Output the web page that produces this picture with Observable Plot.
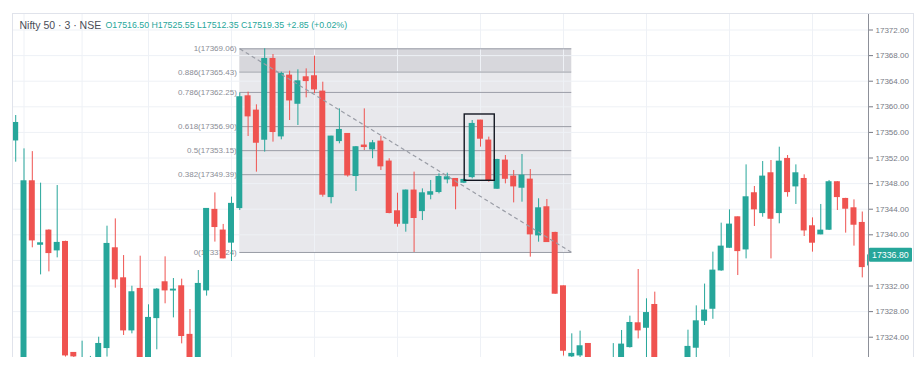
<!DOCTYPE html>
<html><head><meta charset="utf-8">
<script src="https://cdn.jsdelivr.net/npm/d3@7"></script>
<script src="https://cdn.jsdelivr.net/npm/@observablehq/plot@0.6"></script>
<style>
html,body{margin:0;padding:0;background:#fff;}
#wrap{position:relative;width:922px;height:381px;overflow:hidden;}
#border{position:absolute;left:12px;top:13px;width:900px;height:343px;border:1px solid #e0e3eb;border-bottom:none;pointer-events:none;}
</style></head><body><div id="wrap"><div id="border"></div></div>
<script>
const titleText = "Nifty 50 · 3 · NSE";
const legendText = "O17516.50 H17525.55 L17512.35 C17519.35 +2.85 (+0.02%)";

const opens = [
17354.73,17318.00,17348.38,17338.43,17340.67,17337.55,17338.90,17321.56,17318.00,17317.00,
17319.50,17322.29,17337.91,17333.22,17325.05,17331.56,17319.50,17326.97,17332.60,17331.28,
17331.97,17324.38,17319.00,17331.30,17343.91,17340.68,17338.76,17344.16,17361.66,17359.42,
17354.84,17367.49,17355.36,17364.89,17360.46,17364.63,17364.79,17362.39,17345.88,17354.63,
17355.78,17349.17,17353.96,17353.33,17354.58,17351.46,17343.69,17341.71,17346.93,17343.69,
17346.25,17346.67,17348.64,17348.74,17348.12,17349.00,17357.86,17354.74,17347.18,17351.61,
17349.11,17347.34,17348.64,17339.89,17344.32,17340.31,17331.97,17320.99,17321.14,17322.96,
17318.00,17316.00,17318.00,17319.50,17322.44,17326.19,17325.46,17329.05,17319.00,17316.00,
17318.00,17319.00,17322.34,17326.55,17328.43,17334.42,17337.96,17342.75,17337.70,17346.51,
17343.38,17349.63,17343.38,17351.87,17347.55,17348.74,17341.35,17340.05,17340.78,17348.23,
17345.62,17344.16,17341.87,17335.20];
const highs = [
17358.64,17353.43,17353.00,17348.07,17340.78,17347.70,17339.00,17321.60,17323.38,17321.00,
17324.00,17341.35,17342.49,17336.76,17331.97,17336.66,17329.06,17331.60,17336.56,17333.17,
17333.07,17328.33,17334.42,17344.10,17346.55,17341.62,17345.89,17362.13,17362.29,17360.31,
17369.06,17368.17,17365.41,17365.57,17365.78,17365.93,17367.91,17363.85,17355.40,17359.68,
17355.80,17353.80,17359.68,17354.74,17355.41,17351.88,17346.50,17347.00,17349.79,17347.18,
17348.49,17349.53,17349.63,17348.80,17348.70,17357.86,17357.90,17355.26,17351.80,17352.39,
17350.05,17352.55,17350.20,17345.63,17345.52,17340.40,17332.00,17324.53,17324.95,17323.00,
17319.00,17319.00,17323.00,17325.05,17327.29,17334.58,17330.00,17331.04,17320.00,17319.00,
17320.50,17325.10,17328.90,17332.30,17337.29,17341.82,17343.90,17342.80,17350.93,17347.55,
17351.45,17351.61,17353.69,17352.39,17350.93,17349.37,17342.65,17344.74,17348.49,17348.30,
17345.70,17345.46,17343.56,17337.20];
const lows = [
17351.35,17316.00,17337.97,17333.74,17334.21,17336.40,17320.90,17319.50,17316.00,17315.00,
17318.00,17320.90,17331.66,17324.27,17324.53,17318.00,17318.00,17322.03,17329.22,17327.02,
17322.96,17318.00,17317.00,17330.42,17338.86,17336.25,17335.83,17343.80,17355.36,17349.79,
17352.92,17354.48,17354.84,17357.86,17357.08,17361.40,17362.03,17345.88,17344.84,17354.22,
17349.01,17346.77,17353.17,17351.88,17350.05,17343.28,17341.19,17340.41,17337.24,17342.23,
17345.47,17346.40,17347.96,17343.91,17348.00,17348.74,17353.70,17348.22,17347.10,17347.96,
17344.99,17345.10,17336.51,17338.85,17338.80,17330.70,17321.05,17320.50,17320.50,17318.00,
17314.00,17314.00,17316.00,17318.00,17322.30,17323.74,17320.50,17318.00,17315.00,17314.00,
17316.00,17318.00,17320.70,17325.83,17326.80,17334.30,17337.90,17333.64,17336.24,17341.30,
17342.75,17336.24,17341.72,17345.88,17344.74,17339.74,17337.29,17340.00,17340.67,17343.80,
17340.26,17338.23,17333.27,17334.90];
const closes = [
17357.49,17348.38,17339.11,17338.69,17337.13,17338.75,17321.14,17320.99,17319.50,17319.00,
17322.96,17338.59,17333.02,17325.05,17331.04,17319.50,17327.03,17331.45,17331.30,17331.45,
17324.17,17319.50,17332.34,17344.06,17341.20,17336.30,17344.85,17361.51,17358.49,17354.37,
17367.49,17356.04,17365.15,17360.98,17364.00,17364.00,17362.70,17346.25,17355.36,17356.40,
17349.27,17353.70,17353.70,17354.32,17350.68,17343.39,17341.71,17346.93,17342.61,17346.50,
17346.67,17349.05,17349.00,17347.55,17348.59,17357.34,17355.00,17348.49,17351.71,17348.74,
17347.55,17349.27,17340.05,17344.16,17338.85,17330.78,17321.87,17321.41,17322.60,17319.50,
17316.00,17318.00,17319.50,17322.86,17326.24,17325.05,17327.79,17319.50,17316.00,17318.00,
17319.00,17322.50,17326.50,17328.18,17334.42,17338.17,17341.61,17337.44,17345.88,17343.96,
17349.11,17342.49,17351.45,17346.66,17349.63,17340.67,17338.75,17340.67,17348.23,17345.88,
17344.06,17341.56,17334.94,17336.80];

const yTicks = [17324,17328,17332,17336,17340,17344,17348,17352,17356,17360,17364,17368,17372];
const vGridIdx = [1, 8, 16, 26, 36, 46, 56, 66, 76, 86, 96];
const fibLevels = [1, 0.886, 0.786, 0.618, 0.5, 0.382, 0];
const fibHigh = 17369.06, fibLow = 17337.24;
const fibStartIdx = 27, fibEndIdx = 67;
const boxIdx = [54.1, 57.72];
const boxPrice = [17348.44, 17358.8];
const lastPrice = 17336.80;

const xDomain = [-0.386, 102.75];
const yDomain = [17320.83, 17374.58];
const TEAL = "#26a69a", RED = "#ef5350", GRID = "#eef1f6";
const FONT = "'Liberation Sans', Arial, sans-serif";

const candles = opens.map((o, i) => ({i, o, h: highs[i], l: lows[i], c: closes[i], up: closes[i] >= o}));
const fibPrice = l => fibLow + l * (fibHigh - fibLow);
const trunc2 = p => (Math.floor(p * 100 + 1e-6) / 100).toFixed(2);
const bands = fibLevels.slice(0, -1).map((l, k) => ({y1: fibPrice(l), y2: fibPrice(fibLevels[k + 1]), top: k === 0}));

const chart = Plot.plot({
  width: 922, height: 381,
  marginLeft: 12, marginRight: 54, marginTop: 13, marginBottom: 24,
  style: {fontFamily: FONT, fontSize: "8px", color: "#787b86", background: "white", overflow: "visible"},
  x: {type: "linear", domain: xDomain, axis: null},
  y: {domain: yDomain, label: null},
  marks: [
    Plot.rect(bands, {x1: fibStartIdx, x2: fibEndIdx, y1: "y1", y2: "y2", fill: d => d.top ? "#d7d7dc" : "#e8e8ec"}),
    Plot.ruleY(yTicks, {stroke: GRID}),
    Plot.ruleX(vGridIdx, {stroke: GRID}),
    Plot.ruleY(fibLevels, {y: fibPrice, x1: fibStartIdx, x2: fibEndIdx, stroke: "#9a9da6", strokeWidth: 1}),
    Plot.text(fibLevels, {x: fibStartIdx, y: fibPrice, text: l => `${l}(${trunc2(fibPrice(l))})`, textAnchor: "end", dx: -3, fill: "#8a8d96", fontSize: 8}),
    Plot.ruleX(candles, {x: "i", y1: "l", y2: "h", stroke: d => d.up ? TEAL : RED, strokeWidth: 1, clip: true}),
    Plot.rect(candles, {x1: d => d.i - 0.36, x2: d => d.i + 0.36, y1: "o", y2: "c", fill: d => d.up ? TEAL : RED, insetTop: -0.4, insetBottom: -0.4, clip: true}),
    Plot.link([{}], {x1: fibStartIdx, y1: fibHigh, x2: fibEndIdx, y2: fibLow, stroke: "#9a9da6", strokeWidth: 1.2, strokeDasharray: "4,3"}),
    Plot.rect([{}], {x1: boxIdx[0], x2: boxIdx[1], y1: boxPrice[0], y2: boxPrice[1], fill: "none", stroke: "#131722", strokeWidth: 1.4}),
    Plot.ruleX([xDomain[1]], {stroke: "#8d9099"}),
    Plot.axisY(yTicks.filter(t => Math.abs(t - lastPrice) > 2), {anchor: "right", tickSize: 4, tickPadding: 3, tickFormat: d => d.toFixed(2), label: null, fontSize: 8}),
    Plot.text([titleText], {frameAnchor: "top-left", dx: 7, dy: 12, lineAnchor: "middle", fontSize: 10.5, fill: "#4a4d57"}),
    Plot.text([legendText], {frameAnchor: "top-left", dx: 93, dy: 12, lineAnchor: "middle", fontSize: 8.8, fill: TEAL})
  ]
});

document.getElementById("wrap").prepend(chart);

const yS = chart.scale("y"), xS = chart.scale("x");
const py = yS.apply(lastPrice);
const px = xS.range[1];
const g = d3.select(chart).append("g").attr("text-anchor", "start");
g.append("rect").attr("x", px + 1).attr("y", py - 7).attr("width", 43).attr("height", 14).attr("rx", 1).attr("fill", TEAL);
g.append("text").attr("x", px + 4).attr("y", py).attr("dy", "0.35em").attr("fill", "white")
  .attr("text-anchor", "start").attr("font-size", 8.8).attr("font-family", FONT).text(lastPrice.toFixed(2));
</script>
</body></html>
